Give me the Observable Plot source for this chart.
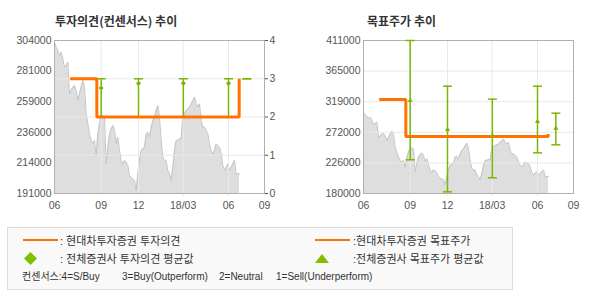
<!DOCTYPE html>
<html><head><meta charset="utf-8">
<script src="https://cdn.jsdelivr.net/npm/d3@7"></script>
<script src="https://cdn.jsdelivr.net/npm/@observablehq/plot@0.6"></script>
<style>
body{margin:0;background:#fff;}
#wrap{position:relative;width:590px;height:300px;overflow:hidden;font-family:"Liberation Sans","Noto Sans CJK KR",sans-serif;color:#333;}
.abs{position:absolute;white-space:pre;}
.title{font-family:"Noto Sans CJK KR",sans-serif;font-weight:bold;font-size:12px;line-height:14px;color:#333;}
.lg{font-size:11px;line-height:14px;color:#333;}
.lg3{font-size:10px;line-height:12px;color:#333;}
</style></head><body><div id="wrap"></div>
<script>
// ---- data ----
const prices = [
302800,299100,296600,292900,295400,290500,284300,285500,288000,264600,
267100,269500,270800,267100,259700,264600,269500,274500,269500,249800,
242500,235100,230100,227700,230100,219100,235100,242500,248600,248600,
247400,212900,225200,235100,238800,241200,237500,227700,232600,222800,
215400,212900,215400,214100,211700,204300,203100,201800,200600,193200,
205500,215400,222800,224000,225200,235100,236300,232600,240000,244900,
247400,252300,256000,247400,230100,217800,215400,215400,208000,205500,
200600,210400,222800,230100,230100,231400,231400,247400,249800,252300,
253500,254800,257200,259700,262100,257200,254800,257200,244900,240000,
240000,237500,235100,227700,222800,220300,222800,227700,226400,225200,
220300,211700,208000,210400,212900,208000,210400,212900,215400,205500,
205500,205500];
const xTickPos = [0, 28, 50.4, 77.2, 104.4, 126];
const xTickLabels = ["06","09","12","18/03","06","09"];
const leftPriceTicks = ["191000","214000","236000","259000","281000","304000"];
const rightPriceTicks = ["180000","226000","272000","319000","365000","411000"];
const opinionTicks = [0,1,2,3,4];

const opinionDates = [9.4, 25.4, 110.8];
const opinionValues = [3, 2, 3];
const targetDates = [9.4, 25.4, 110.8];
const targetValues = [322000, 266000, 270000];

const consDates = [28, 50.4, 77.3, 104.4, 115.4];
const consOpinionLow = [2, 2, 2, 2, 3];
const consOpinionHigh = [3, 3, 3, 3, 3];
const consOpinionAvg = [2.76, 2.88, 2.88, 2.88, null];
const consTargetLow = [230900, 182500, 203700, 241400, 253500];
const consTargetHigh = [411000, 342000, 322400, 342000, 301200];
const consTargetAvg = [320400, 276600, 267600, 288700, 278600];

// ---- styles ----
const ORANGE = "#ff7200", GREEN = "#78b800", GRID = "#e9e9e9", FRAME = "#b0b0b0";
const AREA = "#dedede", AREALINE = "#c4c4c4";

// ---- derived tables ----
const priceData = prices.map((v, i) => ({x: i, v}));
const opSteps = opinionDates.map((d, i) => ({d, v: opinionValues[i]}));
const tgSteps = targetDates.map((d, i) => ({d, v: targetValues[i]}));
const consOp = consDates.map((d, i) => ({d, lo: consOpinionLow[i], hi: consOpinionHigh[i], avg: consOpinionAvg[i]}));
const consTg = consDates.map((d, i) => ({d, lo: consTargetLow[i], hi: consTargetHigh[i], avg: consTargetAvg[i]}));
const evenTicks = (labels) => {
  const lo = +labels[0], hi = +labels[labels.length - 1], n = labels.length - 1;
  return d3.range(n + 1).map(k => lo + k * (hi - lo) / n);
};
const lookup = (labels) => {
  const lo = +labels[0], hi = +labels[labels.length - 1], n = labels.length - 1;
  return d => labels[Math.round((d - lo) / (hi - lo) * n)];
};
const xFmt = d => xTickLabels[xTickPos.indexOf(d)];
const innerX = xTickPos.slice(1, -1);
const cap = {draw(ctx, size) { const r = Math.sqrt(size / Math.PI); ctx.moveTo(-r, 0); ctx.lineTo(r, 0); }};
const baseStyle = {fontFamily: "Liberation Sans, sans-serif", fontSize: "10.5px", color: "#555", background: "transparent"};

const wrap = document.getElementById("wrap");
function place(el, left, top) {
  el.style.position = "absolute"; el.style.left = left + "px"; el.style.top = top + "px";
  wrap.appendChild(el);
}

// ---- left chart (price layer) ----
const L = {width: 295, height: 215, marginLeft: 54, marginRight: 31, marginTop: 40, marginBottom: 22};
const lLo = +leftPriceTicks[0], lHi = +leftPriceTicks[leftPriceTicks.length - 1];
const left1 = Plot.plot({
  ...L, style: baseStyle,
  x: {domain: [0, 126], ticks: xTickPos, tickFormat: xFmt, tickSize: 0, tickPadding: 8, label: null},
  y: {domain: [lLo, lHi], ticks: evenTicks(leftPriceTicks), tickFormat: lookup(leftPriceTicks), tickSize: 0, tickPadding: 3, label: null},
  marks: [
    Plot.areaY(priceData, {x: "x", y1: lLo, y2: "v", fill: AREA}),
    Plot.lineY(priceData, {x: "x", y: "v", stroke: AREALINE, strokeWidth: 1})
  ]
});
place(left1, 0, 0);

// ---- left chart (opinion layer) ----
const left2 = Plot.plot({
  ...L, style: baseStyle,
  x: {domain: [0, 126], axis: null},
  y: {domain: [0, 4], axis: "right", ticks: opinionTicks, tickFormat: d => String(d), tickSize: 3, tickPadding: 2, label: null},
  marks: [
    Plot.ruleY(opinionTicks.slice(1, -1), {stroke: GRID}),
    Plot.ruleX(innerX, {stroke: GRID, insetBottom: -3}),
    Plot.frame({stroke: FRAME}),
    Plot.ruleX(consOp, {x: "d", y1: "lo", y2: "hi", stroke: GREEN, strokeWidth: 1.5}),
    Plot.dot(consOp, {x: "d", y: "hi", symbol: cap, r: 4.5, stroke: GREEN, strokeWidth: 1.5, fill: "none"}),
    Plot.dot(consOp, {x: "d", y: "lo", symbol: cap, r: 4.5, stroke: GREEN, strokeWidth: 1.5, fill: "none"}),
    Plot.line(opSteps, {x: "d", y: "v", curve: "step-after", stroke: ORANGE, strokeWidth: 3, strokeLinejoin: "miter", strokeLinecap: "butt"}),
    Plot.dot(consOp.filter(d => d.avg != null), {x: "d", y: "avg", symbol: "diamond2", r: 2.3, fill: GREEN, stroke: "none"})
  ]
});
place(left2, 0, 0);

// ---- right chart ----
const rLo = +rightPriceTicks[0], rHi = +rightPriceTicks[rightPriceTicks.length - 1];
const rTicks = evenTicks(rightPriceTicks);
const right = Plot.plot({
  width: 300, height: 215, marginLeft: 73, marginRight: 17, marginTop: 40, marginBottom: 22,
  style: baseStyle,
  x: {domain: [0, 126], ticks: xTickPos, tickFormat: xFmt, tickSize: 0, tickPadding: 8, label: null},
  y: {domain: [rLo, rHi], ticks: rTicks, tickFormat: lookup(rightPriceTicks), tickSize: 0, tickPadding: 3, label: null},
  marks: [
    Plot.areaY(priceData, {x: "x", y1: rLo, y2: "v", fill: AREA}),
    Plot.lineY(priceData, {x: "x", y: "v", stroke: AREALINE, strokeWidth: 1}),
    Plot.ruleY(rTicks.slice(1, -1), {stroke: GRID}),
    Plot.ruleX(innerX, {stroke: GRID, insetBottom: -3}),
    Plot.frame({stroke: FRAME}),
    Plot.ruleX(consTg, {x: "d", y1: "lo", y2: "hi", stroke: GREEN, strokeWidth: 1.5}),
    Plot.dot(consTg, {x: "d", y: "hi", symbol: cap, r: 4.5, stroke: GREEN, strokeWidth: 1.5, fill: "none"}),
    Plot.dot(consTg, {x: "d", y: "lo", symbol: cap, r: 4.5, stroke: GREEN, strokeWidth: 1.5, fill: "none"}),
    Plot.line(tgSteps, {x: "d", y: "v", curve: "step-after", stroke: ORANGE, strokeWidth: 3, strokeLinejoin: "miter", strokeLinecap: "butt"}),
    Plot.dot(consTg, {x: "d", y: "avg", symbol: "triangle", r: 1.9, fill: GREEN, stroke: "none"})
  ]
});
place(right, 290, 0);

// ---- titles ----
function txt(cls, s, left, top) { const d = document.createElement("div"); d.className = "abs " + cls; d.textContent = s; place(d, left, top); return d; }
txt("title", "투자의견(컨센서스) 추이", 55, 14);
txt("title", "목표주가 추이", 367, 14);

// ---- legend ----
const box = document.createElement("div");
Object.assign(box.style, {width: "506px", height: "63px", boxSizing: "border-box", border: "1px solid #dcdcdc", background: "#f9f9f9"});
place(box, 7, 227);
function hline(left, top, w) { const d = document.createElement("div"); Object.assign(d.style, {width: w + "px", height: "2px", background: ORANGE}); place(d, left, top); }
hline(23, 239, 35);
hline(315, 239, 35);
txt("lg", ": 현대차투자증권 투자의견", 60, 234);
txt("lg", ":현대차투자증권 목표주가", 353, 234);
const ns = "http://www.w3.org/2000/svg";
function glyph(w, h, pts) {
  const s = document.createElementNS(ns, "svg"); s.setAttribute("width", w); s.setAttribute("height", h);
  const p = document.createElementNS(ns, "polygon"); p.setAttribute("points", pts); p.setAttribute("fill", "#7fbf00");
  s.appendChild(p); return s;
}
place(glyph(13, 13, "6.5,0 13,6.5 6.5,13 0,6.5"), 24, 252);
place(glyph(14, 9, "7,0 14,9 0,9"), 315, 254);
txt("lg", ": 전체증권사 투자의견 평균값", 60, 252);
txt("lg", ":전체증권사 목표주가 평균값", 353, 252);
txt("lg3", "컨센서스:4=S/Buy", 22, 271);
txt("lg3", "3=Buy(Outperform)", 122, 271);
txt("lg3", "2=Neutral", 219, 271);
txt("lg3", "1=Sell(Underperform)", 276, 271);
</script></body></html>
